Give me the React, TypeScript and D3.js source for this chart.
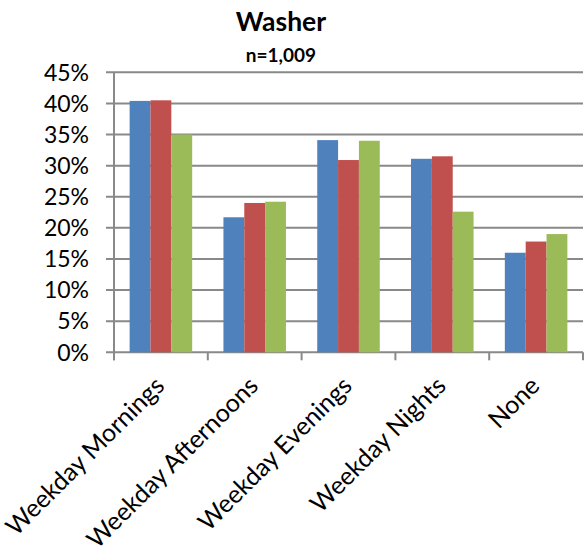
import React from "react";
import * as d3 from "d3";

const categories = ["Weekday Mornings", "Weekday Afternoons", "Weekday Evenings", "Weekday Nights", "None"];
const seriesNames = ["Series A", "Series B", "Series C"];
const seriesA = [40.4, 21.7, 34.1, 31.1, 16.0];
const seriesB = [40.5, 24.0, 30.9, 31.5, 17.8];
const seriesC = [35.0, 24.2, 34.0, 22.6, 19.0];
const colors = ["#4F81BD", "#C0504D", "#9BBB59"];
const yTicks = [0, 5, 10, 15, 20, 25, 30, 35, 40, 45];
const title = "Washer";
const subtitle = "n=1,009";

const W = 584, H = 552;
const left = 114, right = 583, top = 72.3, bottom = 352.3;
const FONT = "Lato, 'Open Sans', sans-serif";

export default function App() {
  const series = [seriesA, seriesB, seriesC];
  const x = d3.scaleBand<string>().domain(categories).range([left, right]).paddingInner(0).paddingOuter(0);
  const xi = d3.scaleBand<number>().domain([0, 1, 2]).range([0, x.bandwidth()]).paddingInner(0).paddingOuter(0.75);
  const y = d3.scaleLinear().domain([0, 45]).range([bottom, top]);
  const boundaries = categories.map((c) => x(c)!).concat([right]);
  return (
    <svg width={W} height={H} style={{ position: "absolute", left: 0, top: 0 }} fontFamily={FONT}>
      <rect width={W} height={H} fill="#fff" />
      <text x={281} y={31} textAnchor="middle" fontSize={26.5} fontWeight="bold" fill="#000">{title}</text>
      <text x={281} y={62} textAnchor="middle" fontSize={19} fontWeight="bold" fill="#000">{subtitle}</text>
      {yTicks.map((t) => (
        <g key={t}>
          <line x1={left - 8} x2={right} y1={y(t)} y2={y(t)} stroke="#898989" strokeWidth={2} />
          <text x={left - 25} y={y(t)} dy="0.36em" textAnchor="end" fontSize={23} fill="#000">{t}%</text>
        </g>
      ))}
      {boundaries.map((b, i) => (
        <line key={i} x1={b} x2={b} y1={bottom} y2={bottom + 8} stroke="#898989" strokeWidth={2} />
      ))}
      {categories.map((c, ci) => (
        <g key={c}>
          {series.map((s, si) => (
            <rect key={si} x={x(c)! + xi(si)!} y={y(s[ci])} width={xi.bandwidth()} height={bottom - y(s[ci])} fill={colors[si]}>
              <title>{seriesNames[si]}</title>
            </rect>
          ))}
        </g>
      ))}
      <line x1={left} x2={left} y1={top} y2={bottom + 8} stroke="#898989" strokeWidth={2} />
      {categories.map((c) => {
        const cx = x(c)! + x.bandwidth() / 2 + 5;
        const cy = bottom + 35;
        return (
          <text key={c} transform={`translate(${cx},${cy}) rotate(-45)`} textAnchor="end" fontSize={25} fill="#000">{c}</text>
        );
      })}
    </svg>
  );
}
